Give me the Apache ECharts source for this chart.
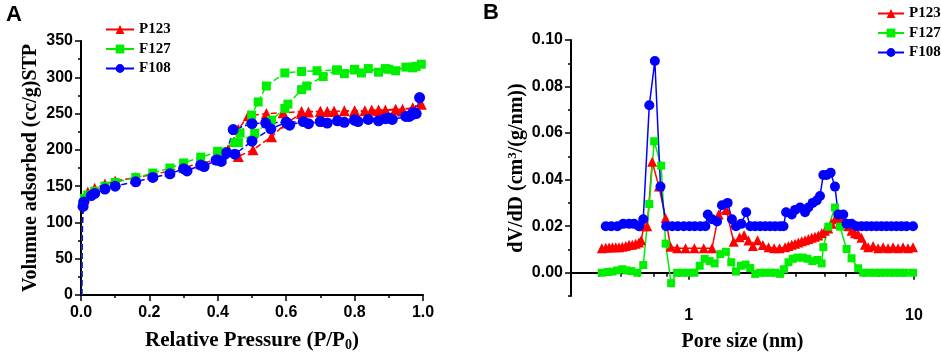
<!DOCTYPE html>
<html>
<head>
<meta charset="utf-8">
<script src="https://cdn.jsdelivr.net/npm/echarts@6/dist/echarts.min.js"></script>
<style>
  html, body { margin: 0; padding: 0; background: #fff; }
  #chart { width: 941px; height: 357px; }
</style>
</head>
<body>
<div id="chart"></div>
<script>
// ---- panel A: isotherms, [P/P0, volume] (adsorption then desorption) ----
const isoP123 = [
  [0.002, 0], [0.003, 45], [0.004, 95], [0.006, 128], [0.01, 135], [0.02, 142], [0.04, 147],
  [0.07, 153], [0.1, 157], [0.16, 162], [0.21, 166], [0.26, 171], [0.3, 176], [0.35, 181],
  [0.4, 187], [0.46, 191], [0.503, 200], [0.557, 218], [0.6, 237], [0.645, 250], [0.665, 252],
  [0.7, 253], [0.72, 253], [0.74, 253], [0.77, 254], [0.8, 254], [0.83, 254], [0.85, 255],
  [0.87, 255], [0.89, 255], [0.92, 256], [0.94, 256], [0.97, 257], [0.995, 263],
  [0.97, 258], [0.92, 255], [0.87, 254], [0.8, 253], [0.74, 253], [0.7, 253], [0.645, 253],
  [0.591, 251], [0.542, 250], [0.489, 247], [0.46, 228], [0.43, 200], [0.41, 188]
];
const isoF127 = [
  [0.002, 0], [0.003, 45], [0.004, 95], [0.006, 125], [0.01, 133], [0.02, 138], [0.04, 143],
  [0.07, 150], [0.1, 155], [0.16, 162], [0.21, 168], [0.26, 175], [0.3, 182], [0.35, 190],
  [0.4, 197], [0.46, 210], [0.508, 223], [0.557, 241], [0.596, 257], [0.605, 263], [0.645, 283],
  [0.66, 288], [0.708, 301], [0.747, 310], [0.77, 305], [0.8, 311], [0.82, 306], [0.84, 312],
  [0.87, 307], [0.89, 312], [0.92, 309], [0.95, 314], [0.97, 313], [0.98, 315], [0.995, 318],
  [0.97, 314], [0.9, 311], [0.8, 310], [0.75, 310], [0.69, 309], [0.645, 308], [0.596, 306],
  [0.542, 288], [0.518, 266], [0.499, 248], [0.465, 223], [0.45, 210], [0.4, 198]
];
const isoF108 = [
  [0.002, 0], [0.003, 45], [0.004, 95], [0.006, 122], [0.008, 128], [0.03, 137], [0.04, 140],
  [0.07, 146], [0.1, 150], [0.16, 156], [0.21, 162], [0.26, 167], [0.3, 174], [0.31, 171],
  [0.35, 179], [0.36, 177], [0.395, 186], [0.41, 184], [0.45, 194], [0.5, 212], [0.555, 229],
  [0.6, 238], [0.61, 234], [0.65, 239], [0.665, 236], [0.7, 239], [0.72, 237], [0.75, 240],
  [0.77, 238], [0.8, 241], [0.81, 239], [0.84, 242], [0.87, 240], [0.89, 243], [0.91, 242],
  [0.95, 246], [0.96, 246], [0.97, 249], [0.98, 250], [0.99, 272],
  [0.97, 251], [0.9, 244], [0.8, 241], [0.7, 239], [0.6, 238], [0.54, 237], [0.5, 236],
  [0.445, 228], [0.426, 196], [0.4, 186]
];

// ---- panel B: pore size distribution, [pore size nm, dV/dD] ----
const psdP123 = [
  [0.411, 0.0105], [0.428, 0.0107], [0.443, 0.0108], [0.458, 0.011], [0.474, 0.011], [0.49, 0.011],
  [0.507, 0.0112], [0.525, 0.0115], [0.543, 0.012], [0.561, 0.012], [0.581, 0.0125], [0.601, 0.013],
  [0.615, 0.014], [0.632, 0.02], [0.654, 0.02], [0.688, 0.0477], [0.737, 0.037], [0.789, 0.0234],
  [0.83, 0.0112], [0.888, 0.0105], [0.967, 0.0105], [1.059, 0.0105], [1.165, 0.0105], [1.268, 0.0105],
  [1.358, 0.025], [1.468, 0.027], [1.582, 0.0133], [1.681, 0.0152], [1.76, 0.0162], [1.842, 0.0138],
  [1.927, 0.0115], [2.02, 0.014], [2.133, 0.0119], [2.261, 0.0109], [2.393, 0.0105], [2.529, 0.0105],
  [2.677, 0.011], [2.771, 0.0115], [2.866, 0.012], [2.965, 0.0125], [3.067, 0.013], [3.173, 0.0135],
  [3.283, 0.014], [3.396, 0.0145], [3.514, 0.015], [3.635, 0.0155], [3.761, 0.016], [3.891, 0.017],
  [4.025, 0.018], [4.164, 0.019], [4.308, 0.021], [4.457, 0.023], [4.611, 0.024], [4.77, 0.0235],
  [4.935, 0.022], [5.105, 0.02], [5.282, 0.018], [5.464, 0.017], [5.653, 0.0165], [5.848, 0.015],
  [6.05, 0.012], [6.259, 0.011], [6.585, 0.0115], [6.931, 0.0105], [7.292, 0.011], [7.672, 0.0105],
  [8.073, 0.011], [8.494, 0.0105], [8.937, 0.011], [9.403, 0.0105], [9.899, 0.011]
];
const psdF127 = [
  [0.411, 0], [0.437, 0.0003], [0.458, 0.0005], [0.482, 0.001], [0.507, 0.0015], [0.53, 0.001],
  [0.556, 0.0007], [0.591, 0], [0.628, 0.0033], [0.668, 0.0295], [0.702, 0.0565], [0.754, 0.046],
  [0.789, 0.0125], [0.835, -0.0045], [0.888, 0], [0.941, 0], [1.0, 0], [1.059, 0], [1.118, 0.003],
  [1.177, 0.006], [1.238, 0.005], [1.303, 0.004], [1.38, 0.008], [1.462, 0.009], [1.544, 0.0045],
  [1.62, 0.0005], [1.704, 0.003], [1.787, 0.0035], [1.875, 0.002], [1.972, -0.0005], [2.075, 0],
  [2.184, 0], [2.298, 0], [2.418, 0], [2.545, -0.0005], [2.646, 0.0015], [2.771, 0.0045],
  [2.896, 0.006], [3.036, 0.0065], [3.205, 0.0065], [3.362, 0.006], [3.537, 0.005], [3.723, 0.0055],
  [3.891, 0.004], [3.957, 0.011], [4.164, 0.0198], [4.457, 0.028], [4.69, 0.0198], [5.02, 0.0102],
  [5.282, 0.0062], [5.653, 0.0019], [5.951, 0], [6.364, 0], [6.699, 0], [7.051, 0], [7.42, 0],
  [7.81, 0], [8.219, 0], [8.65, 0], [9.104, 0], [9.899, 0]
];
const psdF108 = [
  [0.428, 0.02], [0.453, 0.02], [0.482, 0.02], [0.512, 0.021], [0.543, 0.021], [0.571, 0.021],
  [0.601, 0.02], [0.628, 0.023], [0.668, 0.072], [0.707, 0.091], [0.749, 0.037], [0.794, 0.02],
  [0.844, 0.02], [0.894, 0.02], [0.95, 0.02], [1.007, 0.02], [1.063, 0.02], [1.126, 0.02],
  [1.185, 0.02], [1.214, 0.025], [1.268, 0.023], [1.335, 0.022], [1.404, 0.029], [1.488, 0.03],
  [1.555, 0.023], [1.62, 0.02], [1.71, 0.021], [1.799, 0.026], [1.875, 0.02], [1.972, 0.02],
  [2.075, 0.02], [2.184, 0.02], [2.298, 0.02], [2.418, 0.02], [2.545, 0.02], [2.633, 0.02],
  [2.705, 0.026], [2.866, 0.025], [2.965, 0.027], [3.12, 0.028], [3.283, 0.026], [3.396, 0.028],
  [3.549, 0.03], [3.698, 0.031], [3.825, 0.033], [3.957, 0.042], [4.094, 0.042], [4.264, 0.043],
  [4.457, 0.037], [4.611, 0.025], [4.852, 0.025], [5.02, 0.021], [5.282, 0.021], [5.557, 0.02],
  [5.848, 0.02], [6.153, 0.02], [6.475, 0.02], [6.813, 0.02], [7.171, 0.02], [7.544, 0.02],
  [7.939, 0.02], [8.353, 0.02], [8.79, 0.02], [9.25, 0.02], [9.899, 0.02]
];

const names = ["P123", "F127", "F108"];
const colors = ["#ff0000", "#00ee00", "#0000ff"];
const symbols = ["triangle", "rect", "circle"];
const xLabelsB = [1, 10];
const xMinorB = [0.4, 0.5, 0.6, 0.7, 0.8, 0.9, 2, 3, 4, 5, 6, 7, 8, 9];
const yLabelsB = [0, 0.02, 0.04, 0.06, 0.08, 0.1];
const yMinorB = [-0.01, 0.01, 0.03, 0.05, 0.07, 0.09];

const serif = '"Liberation Serif", "DejaVu Serif", serif';
const sans = '"Liberation Sans", Arial, sans-serif';

const chart = echarts.init(document.getElementById("chart"));

const axisLine = { show: true, lineStyle: { color: "#000", width: 2 } };
const tickLabel = { color: "#000", fontFamily: sans, fontWeight: "bold", fontSize: 16 };
const nameStyle = { color: "#000", fontFamily: serif, fontWeight: "bold", fontSize: 20 };

// 等温线 (left)
const isoSeries = [isoP123, isoF127, isoF108].map((d, i) => ({
  name: names[i],
  type: "line",
  xAxisIndex: 0,
  yAxisIndex: 0,
  data: d,
  symbol: symbols[i],
  symbolSize: (v) => (v[1] < 120 ? 0 : i === 1 ? 9 : 11),
  lineStyle: { color: colors[i], width: 1.5, type: [6, 3] },
  itemStyle: { color: colors[i] },
  animation: false,
}));

// 孔径分布 (right)
const psdSeries = [psdP123, psdF127, psdF108].map((d, i) => ({
  name: names[i],
  type: "line",
  xAxisIndex: 1,
  yAxisIndex: 1,
  data: d,
  symbol: symbols[i],
  symbolSize: i === 1 ? 8 : 10,
  lineStyle: { color: colors[i], width: 1.5 },
  itemStyle: { color: colors[i] },
  animation: false,
}));

const legendData = names.map((n) => ({ name: n, lineStyle: { type: "solid" } }));
const legendText = { color: "#000", fontFamily: serif, fontWeight: "bold", fontSize: 15, lineHeight: 15 };

chart.setOption({
  backgroundColor: "#fff",
  animation: false,
  graphic: [
    { type: "text", left: 6, top: 4, style: { text: "A", font: "bold 22px " + sans, fill: "#000" } },
    { type: "text", left: 483, top: 2, style: { text: "B", font: "bold 22px " + sans, fill: "#000" } },
  ],
  legend: [
    {
      data: legendData, orient: "vertical", left: 100, top: 17,
      itemWidth: 28, itemHeight: 11, itemGap: 4.5, textStyle: legendText,
    },
    {
      data: legendData, orient: "vertical", left: 872, top: 1,
      itemWidth: 26, itemHeight: 11, itemGap: 4.5, textStyle: legendText,
    },
  ],
  grid: [
    { left: 81, top: 41, width: 342, height: 255 },
    { left: 571, top: 40, width: 343, height: 256 },
  ],
  xAxis: [
    {
      type: "value", gridIndex: 0, min: 0, max: 1, interval: 0.2,
      axisLine, splitLine: { show: false },
      axisTick: { show: true, length: 6, lineStyle: { width: 1.5, color: "#000" } },
      minorTick: { show: true, splitNumber: 2, length: 3, lineStyle: { width: 1.5, color: "#000" } },
      axisLabel: { ...tickLabel, margin: 10, formatter: (v) => v.toFixed(1) },
      name: "Relative Pressure (P/P{sub|0})",
      nameLocation: "middle", nameGap: 35,
      nameTextStyle: { ...nameStyle, fontSize: 21, rich: { sub: { ...nameStyle, fontSize: 14, verticalAlign: "bottom", padding: [8, 0, 0, 0] } } },
    },
    {
      type: "log", gridIndex: 1, min: 0.3, max: 10, logBase: 10,
      axisLine, splitLine: { show: false },
      axisTick: { show: true, length: 4, customValues: xMinorB, lineStyle: { width: 1.5, color: "#000" } },
      axisLabel: { ...tickLabel, margin: 12, customValues: xLabelsB, formatter: (v) => String(Math.round(v)) },
      name: "Pore size (nm)",
      nameLocation: "middle", nameGap: 36, nameTextStyle: nameStyle,
    },
    {
      type: "log", gridIndex: 1, min: 0.3, max: 10, logBase: 10, position: "bottom",
      axisLine: { show: false }, splitLine: { show: false },
      axisTick: { show: true, length: 7, customValues: xLabelsB, lineStyle: { width: 1.5, color: "#000" } },
      axisLabel: { show: false },
    },
  ],
  yAxis: [
    {
      type: "value", gridIndex: 0, min: 0, max: 350, interval: 50,
      axisLine, splitLine: { show: false },
      axisTick: { show: true, length: 6, lineStyle: { width: 1.5, color: "#000" } },
      minorTick: { show: true, splitNumber: 2, length: 3, lineStyle: { width: 1.5, color: "#000" } },
      axisLabel: { ...tickLabel, margin: 8 },
      name: "Volumue adsorbed (cc/g)STP",
      nameLocation: "middle", nameGap: 40, nameTextStyle: nameStyle,
    },
    {
      type: "value", gridIndex: 1, min: -0.01, max: 0.1,
      axisLine, splitLine: { show: false },
      axisTick: { show: true, length: 6, customValues: yLabelsB, lineStyle: { width: 1.5, color: "#000" } },
      axisLabel: { ...tickLabel, margin: 8, customValues: yLabelsB, formatter: (v) => v.toFixed(2) },
      name: "dV/dD (cm{sup|3}/(g/nm))",
      nameLocation: "middle", nameGap: 44,
      nameTextStyle: { ...nameStyle, rich: { sup: { ...nameStyle, fontSize: 13, verticalAlign: "top", padding: [0, 0, 8, 0] } } },
    },
    {
      type: "value", gridIndex: 1, min: -0.01, max: 0.1, position: "left",
      axisLine: { show: false }, splitLine: { show: false },
      axisTick: { show: true, length: 3, customValues: yMinorB, lineStyle: { width: 1.5, color: "#000" } },
      axisLabel: { show: false },
    },
  ],
  series: [...isoSeries, ...psdSeries],
});
</script>
</body>
</html>
